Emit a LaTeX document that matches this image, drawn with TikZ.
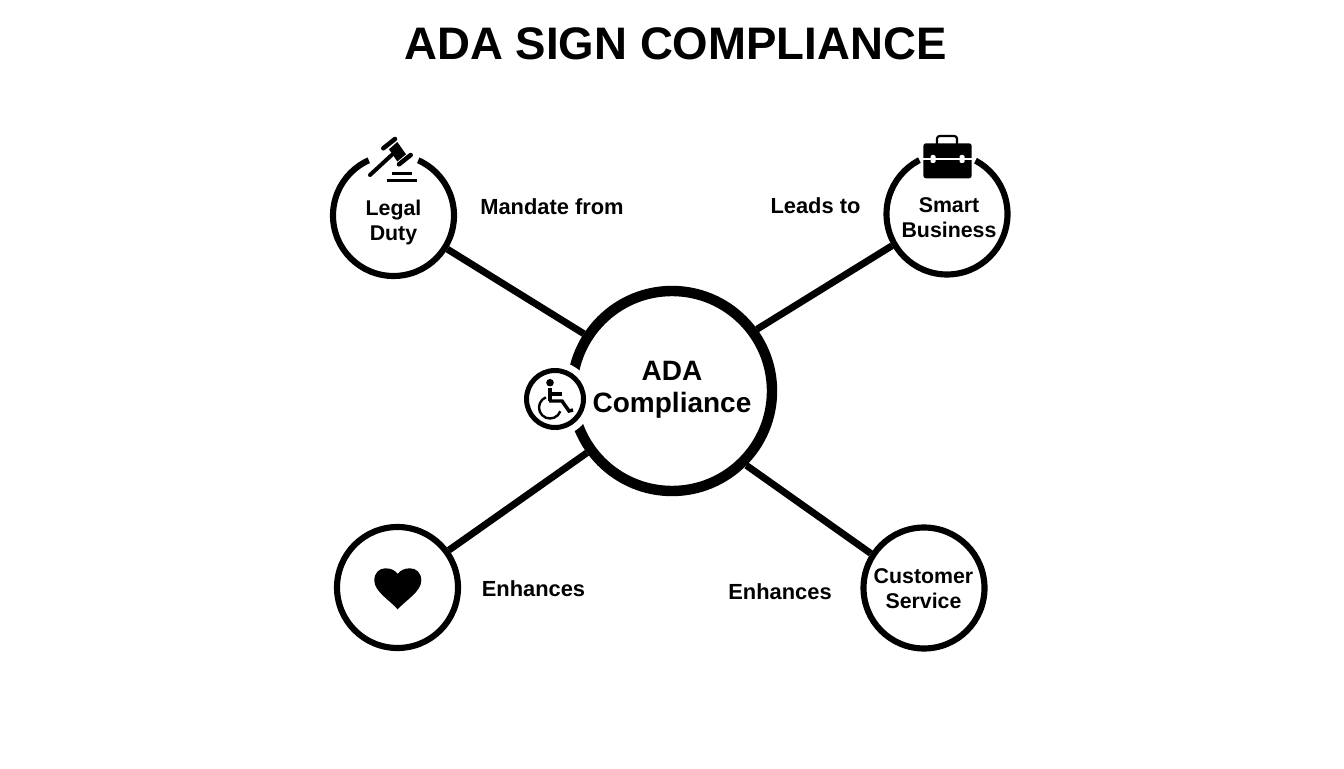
\documentclass[tikz,border=0pt]{standalone}
\usepackage{fontspec}
\setmainfont{Liberation Sans}
\tikzset{
  ring/.style={circle,draw=black,fill=white,line width=4.6pt,minimum size=90.75pt,inner sep=0pt},
  hubring/.style={circle,draw=black,fill=white,line width=7.8pt,minimum size=150pt,inner sep=0pt},
  wheelring/.style={circle,draw=black,fill=white,line width=3.75pt,minimum size=42.75pt,inner sep=0pt},
  link/.style={draw=black,line width=5.2pt},
  gap/.style={draw=white,line width=9pt},
  title/.style={font=\bfseries\fontsize{34.2}{40}\selectfont,inner sep=0pt},
  small/.style={font=\bfseries\fontsize{16}{18.75}\selectfont,align=center,inner sep=0pt},
  edgetext/.style={font=\bfseries\fontsize{16.4}{18.75}\selectfont,align=center,inner sep=0pt},
  big/.style={font=\bfseries\fontsize{21}{24}\selectfont,align=center,inner sep=0pt}
}
\begin{document}
\begin{tikzpicture}[x=0.75pt,y=0.75pt]
\useasboundingbox (0,0) rectangle (1344,768);
\fill[white] (0,0) rectangle (1344,768);
\node[title] (ttl) at (675.5,724) {ADA SIGN COMPLIANCE};
% rings
\node[hubring] (hub) at (672,377) {};
\node[ring] (legal) at (393.5,552.5) {};
\node[ring] (smart) at (947,554) {};
\node[ring] (heart) at (397.5,180.5) {};
\node[ring] (cust) at (924,180) {};
% connectors
\draw[link] (legal.-32) -- (hub.147.4);
\draw[link] (smart.210) -- (hub.36.3);
\draw[link] (heart.36.4) -- (hub.216.9);
\draw[link] (cust.147) -- (hub.-45.4);
% ring gaps
\draw[gap] ([shift={(66:60.5)}]393.5,552.5) arc (66:114:60.5);
\draw[gap] ([shift={(62:60.5)}]947,554) arc (62:117:60.5);
% wheelchair badge
\fill[white] (555,369) circle (37.5);
\node[wheelring] (wheel) at (555,369) {};
\fill (550,385.3) circle (3.8);
\draw[line width=3.2pt] (550,380) -- (550,366.5);
\draw[line width=2.6pt] (550,374) -- (562,374);
\draw[line width=2.6pt,line join=miter] (549,367) -- (562,367) -- (569,357) -- (573,358);
\draw[line width=1.8pt] ([shift={(112:11)}]550,360.5) arc (112:340:11);
% gavel
\draw[line width=3pt,line cap=round] (370,593) -- (391.7,613);
\fill (389,618.7) -- (397.3,626) -- (406,613.7) -- (397.3,606.5) -- cycle;
\draw[line width=3.4pt,line cap=round] (383.3,619.7) -- (395,629);
\draw[line width=3.4pt,line cap=round] (399,603.7) -- (410.7,613);
\draw[line width=2pt] (391.7,594.7) -- (411.7,594.7);
\draw[line width=2.6pt] (386.7,587.3) -- (416.7,587.3);
% briefcase
\draw[line width=1.6pt,rounded corners=2pt] (937,624) -- (937,632) -- (957,632) -- (957,624);
\fill[rounded corners=2pt] (923.3,624.7) rectangle (971.7,589.7);
\draw[white,line width=1.1pt] (923.3,609) -- (971.7,609);
\fill[white,rounded corners=1pt] (930.5,605) rectangle (935.5,613);
\fill[white,rounded corners=1pt] (959.5,605) rectangle (964.5,613);
% heart
\fill (397.7,158.7) .. controls (390,167.5) and (374.3,176.5) .. (374.3,187.5)
  .. controls (374.3,195.5) and (379.5,199.7) .. (385.5,199.7)
  .. controls (391,199.7) and (395.5,197.5) .. (397.7,194)
  .. controls (400,197.5) and (404.5,199.7) .. (410,199.7)
  .. controls (416,199.7) and (421.3,195.5) .. (421.3,187.5)
  .. controls (421.3,176.5) and (405.5,167.5) .. (397.7,158.7) -- cycle;
% texts
\node[big] (hubt) at (672,378) {ADA\\Compliance};
\node[small] (legalt) at (393.5,546) {Legal\\Duty};
\node[small] (smartt) at (949,550.5) {Smart\\Business};
\node[small] (custt) at (923.5,179.5) {Customer\\Service};
\node[edgetext] (l1) at (552,561) {Mandate from};
\node[edgetext] (l2) at (815.5,562) {Leads to};
\node[edgetext] (l3) at (533.5,179) {Enhances};
\node[edgetext] (l4) at (780,176) {Enhances};
\end{tikzpicture}
\end{document}
